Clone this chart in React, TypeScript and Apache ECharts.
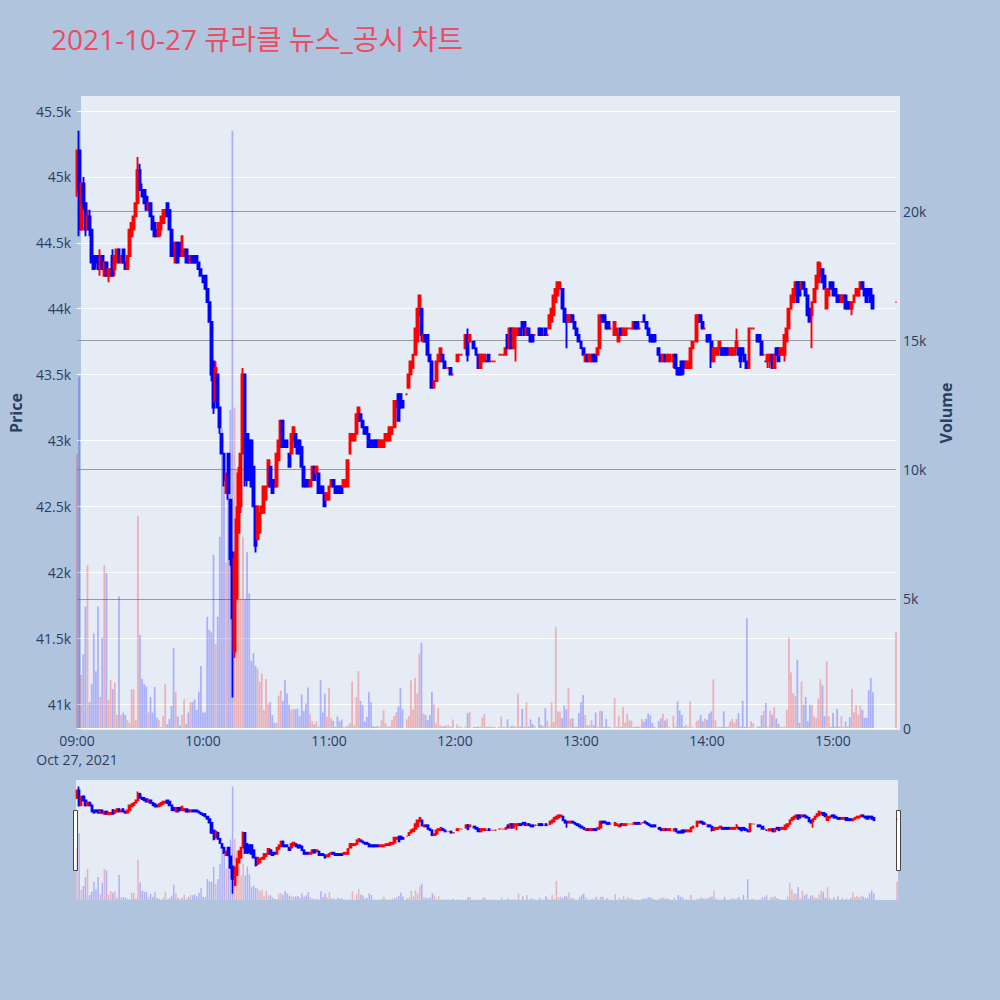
import React, { useEffect, useRef } from "react";
import * as echarts from "echarts";

const FONT = '"Open Sans", "Noto Sans CJK KR", sans-serif';
const TITLE = "2021-10-27 큐라클 뉴스_공시 차트";
const DATE_LABEL = "Oct 27, 2021";
const hourLabels = ["09:00", "10:00", "11:00", "12:00", "13:00", "14:00", "15:00"];

// minutes after 09:00 that have a candle
const minutes = [
  0,1,2,3,4,5,6,7,8,9,10,11,12,13,14,15,16,17,18,19,
  20,21,22,23,24,25,26,27,28,29,30,31,32,33,34,35,36,37,38,39,
  40,41,42,43,44,45,46,47,48,49,50,51,52,53,54,55,56,57,58,59,
  60,61,62,63,64,65,66,67,68,69,70,71,72,73,74,75,76,77,78,79,
  80,81,82,83,84,85,86,87,88,89,90,91,92,93,94,95,96,97,98,99,
  100,101,102,103,104,105,106,107,108,109,110,111,112,113,114,115,116,117,118,119,
  120,121,122,123,124,125,126,127,128,129,130,131,132,133,134,135,136,137,138,139,
  140,141,142,143,144,145,146,147,148,149,150,151,152,153,154,155,
  157,158,159,160,161,162,163,
  164,165,166,167,168,169,170,171,172,173,174,175,176,177,178,179,
  181,182,183,
  185,186,187,
  189,190,191,192,193,194,195,196,197,198,199,
  201,202,203,204,205,206,207,208,209,210,211,212,213,214,215,216,217,218,
  220,221,222,223,224,225,226,227,228,229,230,231,232,233,234,235,236,237,238,239,
  240,241,242,243,244,245,246,247,248,249,250,251,252,253,254,
  256,257,258,259,260,261,262,263,264,265,266,267,268,269,270,271,272,273,274,275,
  277,278,279,280,281,282,
  284,285,286,287,288,289,290,291,292,293,
  295,296,297,298,299,300,301,302,303,304,305,306,307,308,309,310,311,312,313,314,
  315,316,317,318,319,320,321,322,
  324,325,326,327,328,329,330,331,332,333,334,335,336,337,338,339,340,341,342,343,
  344,345,346,347,348,349,350,351,352,353,354,355,356,357,358,359,360,361,362,363,
  364,365,366,367,368,369,370,371,372,373,374,375,376,377,378,379,
  390,
];

const opens = [
  44900,45200,44600,44950,44800,44600,44700,44600,44400,44400,
  44400,44300,44400,44250,44350,44250,44250,44400,44300,44350,
  44450,44350,44450,44350,44300,44400,44550,44600,44700,44800,
  45050,44900,44900,44850,44750,44800,44700,44650,44600,44550,
  44600,44650,44700,44800,44750,44600,44500,44350,44500,44500,
  44400,44400,44450,44400,44350,44400,44400,44400,44350,44300,
  44250,44250,44150,44050,43900,43600,43300,43500,43250,43050,
  42900,42600,42900,42550,42150,41400,41800,42300,42500,42900,
  43500,43050,43000,43000,42800,42500,42250,42300,42450,42450,
  42550,42650,42800,42700,42700,42650,42850,42950,43150,43000,
  43000,42900,42900,43000,43050,43000,43000,42950,42800,42700,
  42700,42650,42700,42800,42750,42750,42650,42650,42600,42550,
  42550,42650,42700,42650,42650,42650,42650,42650,42650,42650,
  42900,43000,43000,43050,43150,43200,43150,43100,43100,43050,
  43000,43000,43000,43000,42950,42950,42950,43000,43000,43000,
  43050,43100,43250,43350,43350,43300,
  43350,43400,43500,43550,43650,43750,43950,
  44000,43750,43800,43800,43650,43600,43400,43450,43600,43600,43650,43600,43550,43550,43550,43500,
  43600,43650,43650,
  43700,43800,43750,
  43750,43700,43650,43550,43600,43600,43600,43650,43600,43600,43600,
  43650,43650,43650,43650,43800,43700,43850,43700,43800,43800,43850,43900,43900,43800,43850,43800,43800,43800,
  43850,43850,43800,43850,43800,43850,43900,43950,44050,44100,44150,44150,44000,43950,43900,43900,43950,43900,43850,43800,
  43750,43700,43600,43650,43600,43600,43650,43650,43650,43700,43950,43950,43900,43900,43850,
  43800,43800,43750,43850,43800,43800,43850,43850,43850,43850,43900,43900,43850,43900,43950,43900,43850,43800,43800,43800,
  43700,43650,43600,43650,43600,43600,
  43600,43650,43550,43550,43600,43600,43550,43550,43550,43700,
  43750,43900,43950,43900,43850,43800,43800,43750,43600,43650,43650,43700,43700,43700,43700,43700,43650,43650,43650,43700,
  43700,43700,43700,43650,43600,43550,43850,43850,
  43800,43800,43750,43650,43600,43600,43600,43650,43550,43700,43700,43650,43650,43650,43750,43850,44000,44050,44100,44200,
  44200,44150,44200,44150,44100,44000,43950,44050,44150,44200,44250,44300,44250,44000,44100,44200,44200,44150,44100,44100,
  44050,44050,44100,44050,44050,44000,44050,44100,44100,44150,44200,44150,44150,44150,44150,44100,
  44050,
];

const highs = [
  45200,45350,44950,45000,44800,44750,44750,44600,44400,44400,
  44400,44450,44400,44350,44350,44300,44300,44450,44400,44450,
  44450,44400,44450,44350,44400,44600,44650,44700,44800,45150,
  45100,44950,44900,44850,44800,44800,44700,44650,44600,44650,
  44700,44750,44750,44800,44750,44600,44500,44500,44500,44500,
  44550,44450,44450,44400,44400,44400,44400,44400,44350,44300,
  44250,44250,44150,44050,43900,43600,43600,43500,43250,43050,
  42900,42750,42900,42550,42150,42150,42500,42800,42900,43550,
  43500,43050,43000,43000,42800,42500,42500,42450,42500,42650,
  42650,42850,42800,42700,42700,42900,43000,43150,43150,43000,
  43000,42900,43050,43100,43050,43000,43000,42950,42800,42700,
  42700,42700,42800,42800,42800,42750,42650,42650,42600,42600,
  42650,42700,42700,42650,42650,42650,42650,42700,42700,42850,
  43050,43050,43050,43200,43250,43200,43150,43100,43100,43050,
  43000,43000,43000,43000,43000,43000,43000,43050,43050,43100,
  43100,43300,43300,43350,43350,43300,
  43350,43500,43600,43650,43850,44000,44100,
  44000,43800,43800,43800,43650,43600,43450,43600,43650,43700,43650,43600,43550,43550,43550,43500,
  43650,43650,43650,
  43800,43850,43800,
  43750,43700,43650,43650,43650,43650,43600,43650,43600,43600,43600,
  43650,43650,43650,43700,43800,43850,43850,43850,43850,43850,43850,43900,43900,43850,43850,43800,43800,43800,
  43850,43850,43800,43850,43800,43950,44000,44100,44150,44200,44200,44150,44000,43950,43950,43950,43950,43900,43850,43800,
  43750,43700,43650,43650,43650,43650,43650,43650,43700,43950,43950,43950,43900,43900,43850,
  43900,43850,43800,43850,43850,43850,43850,43850,43850,43900,43900,43900,43850,43900,43950,43900,43850,43800,43800,43800,
  43700,43650,43650,43650,43650,43650,
  43650,43650,43550,43550,43600,43600,43600,43600,43700,43750,
  43950,43950,43950,43900,43850,43800,43800,43750,43700,43700,43700,43750,43700,43700,43700,43700,43700,43700,43700,43850,
  43700,43700,43700,43650,43600,43850,43850,43850,
  43800,43800,43750,43650,43600,43650,43650,43650,43650,43700,43700,43700,43700,43800,43850,44000,44100,44150,44200,44200,
  44200,44200,44200,44150,44100,44000,44050,44150,44250,44350,44350,44300,44250,44150,44150,44200,44200,44150,44100,44100,
  44100,44100,44100,44050,44050,44050,44100,44150,44150,44200,44200,44150,44150,44150,44150,44100,
  44050,
];

const lows = [
  44850,44550,44600,44750,44550,44600,44550,44350,44300,44300,
  44300,44250,44300,44250,44250,44200,44250,44250,44250,44350,
  44350,44350,44350,44300,44300,44400,44550,44600,44700,44800,
  44900,44850,44800,44750,44750,44700,44600,44550,44550,44550,
  44550,44650,44700,44700,44600,44400,44400,44350,44350,44400,
  44400,44400,44350,44350,44350,44350,44350,44350,44300,44250,
  44200,44150,44050,43900,43450,43200,43300,43250,43050,42900,
  42650,42600,42550,42050,41050,41350,41800,42300,42450,42900,
  42650,42650,42700,42650,42500,42150,42250,42300,42450,42450,
  42550,42650,42650,42600,42650,42650,42850,42950,42950,42950,
  42950,42800,42900,43000,42950,42900,42900,42800,42650,42650,
  42650,42650,42700,42700,42750,42600,42600,42600,42500,42550,
  42550,42650,42650,42600,42600,42600,42600,42650,42650,42650,
  42900,43000,43000,43050,43150,43150,43100,43050,43050,42950,
  42950,42950,42950,42950,42950,42950,42950,43000,43000,43000,
  43050,43100,43250,43150,43250,43250,
  43350,43400,43500,43550,43650,43750,43950,
  43750,43750,43750,43650,43600,43400,43400,43450,43600,43600,43600,43550,43550,43550,43500,43500,
  43600,43650,43650,
  43700,43600,43750,
  43700,43650,43550,43550,43600,43600,43600,43600,43600,43600,43600,
  43650,43650,43650,43650,43700,43700,43700,43700,43600,43800,43800,43850,43800,43800,43800,43750,43750,43800,
  43800,43800,43800,43800,43800,43850,43900,43950,44050,44100,44150,44000,43900,43700,43900,43900,43900,43850,43800,43750,
  43700,43650,43600,43600,43600,43600,43600,43600,43650,43700,43900,43900,43850,43850,43850,
  43800,43800,43750,43800,43800,43800,43850,43850,43850,43850,43850,43850,43850,43900,43900,43850,43800,43750,43750,43750,
  43650,43600,43600,43600,43600,43600,
  43550,43550,43500,43500,43500,43500,43550,43550,43550,43700,
  43750,43900,43900,43850,43850,43750,43750,43550,43600,43650,43650,43700,43650,43650,43650,43650,43650,43650,43650,43700,
  43650,43550,43650,43600,43550,43550,43850,43850,
  43750,43750,43650,43650,43600,43550,43550,43550,43550,43650,43600,43650,43650,43600,43750,43850,44000,44050,44100,44050,
  44100,44150,44150,44100,43950,43900,43700,44050,44150,44200,44250,44200,44150,44000,44100,44150,44100,44100,44050,44050,
  44050,44050,44000,44000,44000,43950,44050,44100,44100,44150,44150,44100,44050,44100,44050,44000,
  44050,
];

const closes = [
  45200,44600,44950,44800,44600,44700,44600,44350,44300,44350,
  44300,44400,44300,44350,44250,44300,44300,44250,44400,44450,
  44350,44400,44350,44300,44400,44600,44650,44700,44800,45050,
  44900,44850,44800,44750,44800,44700,44600,44550,44550,44650,
  44700,44750,44750,44700,44600,44400,44400,44500,44350,44400,
  44550,44450,44350,44350,44400,44350,44350,44350,44300,44250,
  44200,44150,44050,43900,43500,43250,43550,43250,43100,42900,
  42700,42750,42600,42100,41650,42100,42400,42750,42900,43500,
  42700,42700,42700,42650,42500,42200,42500,42450,42500,42650,
  42650,42850,42650,42600,42650,42900,43000,43150,42950,42950,
  42950,42800,43050,43100,42950,42900,42900,42800,42650,42650,
  42650,42700,42800,42700,42800,42600,42600,42600,42500,42600,
  42650,42700,42650,42600,42600,42600,42600,42700,42700,42850,
  43050,43050,43050,43200,43250,43150,43100,43050,43050,42950,
  42950,42950,42950,42950,43000,43000,43000,43050,43050,43100,
  43100,43300,43300,43150,43250,43250,
  43350,43500,43600,43650,43850,44000,44100,
  43800,43800,43750,43650,43600,43400,43450,43600,43650,43700,43600,43550,43550,43550,43500,43500,
  43650,43650,43650,
  43800,43650,43800,
  43700,43650,43550,43650,43650,43650,43600,43600,43600,43600,43600,
  43650,43650,43650,43700,43700,43850,43700,43850,43850,43850,43800,43850,43800,43850,43800,43750,43750,43800,
  43800,43800,43800,43800,43800,43950,44000,44100,44150,44200,44200,44000,43900,43900,43950,43950,43900,43850,43800,43750,
  43700,43650,43650,43600,43650,43650,43600,43600,43700,43950,43900,43900,43850,43850,43850,
  43900,43850,43800,43800,43850,43850,43850,43850,43850,43900,43850,43850,43850,43900,43900,43850,43800,43750,43750,43750,
  43650,43600,43650,43600,43650,43650,
  43650,43550,43500,43500,43500,43550,43600,43600,43700,43750,
  43950,43950,43900,43850,43850,43750,43750,43600,43700,43700,43700,43750,43650,43650,43650,43650,43700,43700,43700,43750,
  43650,43600,43650,43600,43550,43850,43850,43850,
  43750,43750,43650,43650,43600,43650,43650,43550,43650,43650,43600,43700,43700,43800,43850,44000,44100,44150,44200,44050,
  44100,44200,44150,44100,43950,43900,44050,44150,44250,44350,44300,44200,44150,44150,44150,44150,44100,44100,44050,44050,
  44100,44100,44000,44000,44000,44050,44100,44150,44150,44200,44150,44100,44050,44100,44050,44000,
  44050,
];

const volumes = [
  10600,13600,2050,2850,4700,6300,1000,1700,3660,2200,
  4700,1200,3500,6300,6000,1100,1850,1500,1750,500,
  5100,500,600,500,300,200,1500,1500,300,8200,
  3600,1900,1700,1600,600,1200,600,1600,400,300,
  50,450,1700,150,350,850,3100,1400,450,100,
  500,1100,150,600,1000,1000,1100,700,1400,2400,
  600,600,4300,3800,3700,6700,3250,4300,7400,11600,
  9500,6400,10300,12300,23100,12400,10000,8300,5000,7400,
  5000,6800,5200,2600,2900,2400,2300,1800,2100,700,
  1900,950,1000,500,200,200,1250,1450,1050,1850,
  1330,900,700,750,720,750,460,1300,660,950,
  1570,530,270,140,260,50,1850,600,1330,440,
  1540,380,280,50,440,260,330,50,50,100,
  180,1800,100,1200,2200,1050,900,240,430,1380,
  1000,80,50,80,50,300,690,180,50,80,
  300,460,600,830,1550,720,
  340,460,1840,720,1930,1330,2870,
  3300,550,500,300,500,1400,920,180,780,100,50,80,100,100,50,330,
  140,50,50,
  50,570,620,
  50,50,50,50,400,550,50,50,50,50,50,
  50,440,50,50,340,50,80,80,50,1330,50,740,50,1000,50,330,150,80,
  430,120,80,770,280,50,1000,230,3900,640,640,380,870,720,1550,350,380,50,50,570,
  1000,1280,500,100,100,300,100,600,50,660,660,50,350,50,50,
  1160,50,470,50,810,200,550,290,290,50,50,50,50,350,250,350,560,490,200,50,
  260,370,550,290,360,50,
  480,50,1030,680,510,50,130,50,1030,50,
  260,320,500,260,370,320,560,640,1880,300,50,50,50,640,50,50,250,360,200,350,
  580,50,1050,50,4250,50,260,180,
  50,50,500,660,970,50,670,510,800,370,170,50,50,50,700,3500,2150,1350,1250,2640,
  200,1800,900,1200,260,900,900,450,390,1140,1880,1650,450,2580,450,50,580,50,740,50,
  450,50,250,50,420,1520,620,890,510,880,710,400,400,1460,1940,1380,
  3720,
];

const UP = "#ff0000";
const DOWN = "#0000ff";
const UP_VOL = "rgba(255,0,0,0.25)";
const DOWN_VOL = "rgba(0,0,255,0.25)";
const TICK_COLOR = "#2a3f5f";

export default function App() {
  const ref = useRef<HTMLDivElement>(null);

  useEffect(() => {
    if (!ref.current) return;
    const chart = echarts.init(ref.current, null, { renderer: "svg" });

    const candleData = minutes.map((m, i) => [m, opens[i], closes[i], lows[i], highs[i]]);
    const isUp = minutes.map(
      (_m, i) =>
        closes[i] > opens[i] ||
        (closes[i] === opens[i] && (i === 0 || closes[i] >= closes[i - 1]))
    );
    const volData = minutes.map((m, i) => ({
      value: [m, volumes[i]],
      itemStyle: { color: isUp[i] ? UP_VOL : DOWN_VOL },
    }));

    const xFormatter = (v: number) => {
      if (v % 60 !== 0 || v / 60 >= hourLabels.length) return "";
      const lbl = hourLabels[v / 60];
      return v === 0 ? lbl + "\n" + DATE_LABEL : lbl;
    };

    const hiddenAxis = {
      axisLine: { show: false },
      axisTick: { show: false },
      axisLabel: { show: false },
      splitLine: { show: false },
    };

    const option: any = {
      animation: false,
      backgroundColor: "#b0c4de",
      textStyle: { fontFamily: FONT },
      title: {
        text: TITLE,
        left: 46,
        top: 20,
        textStyle: { color: "#eb4c64", fontSize: 28, fontWeight: "normal", fontFamily: FONT },
      },
      grid: [
        { left: 72, right: 100, top: 96, bottom: 270, show: true, backgroundColor: "#e5ecf6", borderWidth: 0 },
        { left: 77, right: 104, top: 111, height: 593 },
        { left: 77, right: 104, top: 211, height: 517 },
        { left: 76, right: 102, top: 780, height: 120, show: true, backgroundColor: "#e5ecf6", borderWidth: 0 },
      ],
      xAxis: [
        { gridIndex: 0, type: "value", show: false, min: 0, max: 1 },
        { gridIndex: 1, type: "value", show: false, min: 0, max: 390 },
        {
          gridIndex: 2,
          type: "value",
          min: 0,
          max: 390,
          interval: 60,
          axisLine: { show: false },
          axisTick: { show: false },
          splitLine: { show: false },
          axisLabel: {
            formatter: xFormatter,
            color: TICK_COLOR,
            fontSize: 14,
            fontFamily: FONT,
            lineHeight: 19,
            margin: 3,
            showMaxLabel: false,
          },
        },
        { gridIndex: 3, type: "value", show: false, min: -0.5, max: 390.5 },
      ],
      yAxis: [
        {
          gridIndex: 0,
          type: "value",
          position: "left",
          min: 0,
          max: 1,
          name: "Price",
          nameLocation: "middle",
          nameGap: 57,
          nameRotate: 90,
          nameTextStyle: { color: TICK_COLOR, fontSize: 16, fontWeight: "bold", fontFamily: FONT },
          ...hiddenAxis,
        },
        {
          gridIndex: 0,
          type: "value",
          position: "right",
          min: 0,
          max: 1,
          name: "Volume",
          nameLocation: "middle",
          nameGap: 38,
          nameRotate: 90,
          nameTextStyle: { color: TICK_COLOR, fontSize: 16, fontWeight: "bold", fontFamily: FONT },
          ...hiddenAxis,
        },
        {
          gridIndex: 1,
          type: "value",
          position: "left",
          min: 41000,
          max: 45500,
          interval: 500,
          axisLine: { show: false },
          axisTick: { show: false },
          axisLabel: {
            formatter: (v: number) => v / 1000 + "k",
            color: TICK_COLOR,
            fontSize: 14,
            fontFamily: FONT,
            margin: 6,
          },
          splitLine: { show: true, lineStyle: { color: "#ffffff", width: 1 } },
        },
        {
          gridIndex: 2,
          type: "value",
          position: "right",
          min: 0,
          max: 20000,
          interval: 5000,
          axisLine: { show: false },
          axisTick: { show: false },
          axisLabel: {
            formatter: (v: number) => (v === 0 ? "0" : v / 1000 + "k"),
            color: TICK_COLOR,
            fontSize: 14,
            fontFamily: FONT,
            margin: 7,
          },
          splitLine: {
            show: true,
            lineStyle: { color: ["#ffffff", "#999999", "#999999", "#999999", "#999999"], width: 1 },
          },
        },
        { gridIndex: 3, type: "value", show: false, min: 40803, max: 45614 },
        { gridIndex: 3, type: "value", show: false, min: 0, max: 24430 },
      ],
      series: [
        {
          name: "Volume",
          type: "bar",
          xAxisIndex: 2,
          yAxisIndex: 3,
          barWidth: 1.8,
          clip: false,
          data: volData,
        },
        {
          name: "Price",
          type: "candlestick",
          xAxisIndex: 1,
          yAxisIndex: 2,
          barWidth: 2.4,
          clip: false,
          encode: { x: 0, y: [1, 2, 3, 4] },
          itemStyle: { color: UP, color0: DOWN, borderColor: UP, borderColor0: DOWN, borderWidth: 1.9 },
          data: candleData,
        },
        {
          name: "VolumeMini",
          type: "bar",
          xAxisIndex: 3,
          yAxisIndex: 5,
          barWidth: 1.5,
          clip: false,
          data: volData,
        },
        {
          name: "PriceMini",
          type: "candlestick",
          xAxisIndex: 3,
          yAxisIndex: 4,
          barWidth: 1.8,
          clip: false,
          encode: { x: 0, y: [1, 2, 3, 4] },
          itemStyle: { color: UP, color0: DOWN, borderColor: UP, borderColor0: DOWN, borderWidth: 1.7 },
          data: candleData,
        },
      ],
      graphic: [
        {
          type: "rect",
          shape: { x: 73.5, y: 810.5, width: 4, height: 60 },
          style: { fill: "#ffffff", stroke: "#444444", lineWidth: 1 },
        },
        {
          type: "rect",
          shape: { x: 896.5, y: 810.5, width: 4, height: 60 },
          style: { fill: "#ffffff", stroke: "#444444", lineWidth: 1 },
        },
      ],
    };

    chart.setOption(option);
    return () => chart.dispose();
  }, []);

  return (
    <div
      ref={ref}
      style={{ position: "fixed", left: 0, top: 0, width: 1000, height: 1000 }}
    />
  );
}
